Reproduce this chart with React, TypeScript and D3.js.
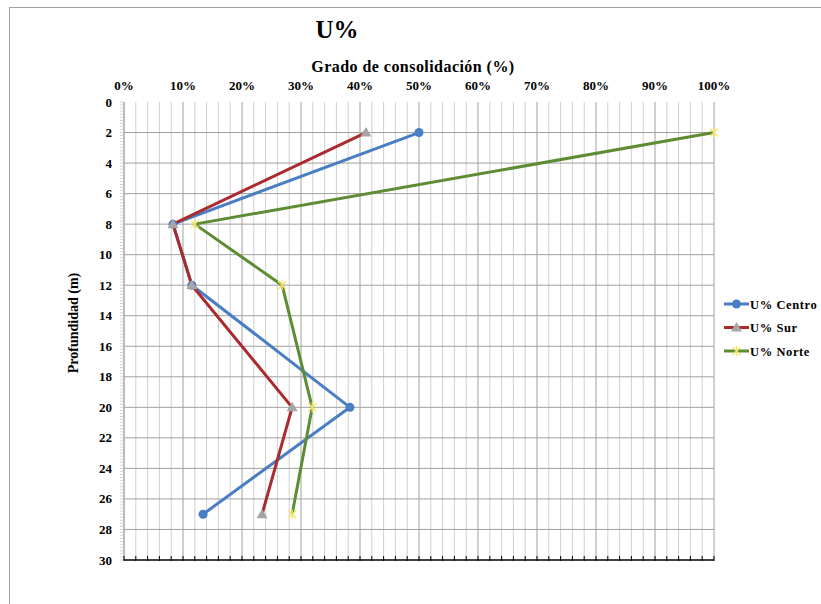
import React from "react";
import * as d3 from "d3";

const depths = [2, 8, 12, 20, 27];
const centro = [0.5, 0.083, 0.115, 0.383, 0.134];
const sur = [0.41, 0.083, 0.115, 0.285, 0.234];
const norte = [1.0, 0.12, 0.268, 0.319, 0.285];
const xTicks = [0, 0.1, 0.2, 0.3, 0.4, 0.5, 0.6, 0.7, 0.8, 0.9, 1.0];
const yTicks = [0, 2, 4, 6, 8, 10, 12, 14, 16, 18, 20, 22, 24, 26, 28, 30];
const seriesNames = ["U% Centro", "U% Sur", "U% Norte"];

const W = 821, H = 604;
const L = 124, R = 714, T = 102, B = 560;
const FONT = "'Liberation Serif', 'Times New Roman', serif";

export default function App() {
  const x = d3.scaleLinear().domain([0, 1]).range([L, R]);
  const y = d3.scaleLinear().domain([0, 30]).range([T, B]);
  const line = d3.line<[number, number]>().x(d => x(d[0])).y(d => y(d[1]));

  const series = [
    { name: seriesNames[0], vals: centro, color: "#4A7EC4", marker: "circle" },
    { name: seriesNames[1], vals: sur, color: "#AA2A2E", marker: "triangle" },
    { name: seriesNames[2], vals: norte, color: "#5E8C32", marker: "star" },
  ];

  const minorX = d3.range(0, 51).map(i => i * 0.02);
  const minorY = d3.range(0, 151).map(i => i * 0.2);

  const marker = (type: string, cx: number, cy: number, key: string) => {
    if (type === "circle") return <circle key={key} cx={cx} cy={cy} r={4.5} fill="#4A7EC4" />;
    if (type === "triangle")
      return <path key={key} d={`M${cx},${cy - 5.5}L${cx + 5.5},${cy + 4}L${cx - 5.5},${cy + 4}Z`} fill="#A5A5A5" />;
    return (
      <g key={key} stroke="#F5E66A" strokeWidth={1.3}>
        <line x1={cx - 4} y1={cy - 4} x2={cx + 4} y2={cy + 4} />
        <line x1={cx - 4} y1={cy + 4} x2={cx + 4} y2={cy - 4} />
        <line x1={cx} y1={cy - 5} x2={cx} y2={cy + 5} />
      </g>
    );
  };

  return (
    <svg width={W} height={H} style={{ position: "absolute", left: 0, top: 0, background: "#fff" }} fontFamily={FONT}>
      <rect x={9.5} y={7.5} width={830} height={640} fill="#fff" stroke="#A0A0A0" />
      {minorX.map((v, i) => (
        <line key={"mx" + i} x1={x(v)} x2={x(v)} y1={T} y2={B}
          stroke={i % 5 === 0 ? "#A0A0A0" : "#D0D0D0"} strokeWidth={1} />
      ))}
      {yTicks.filter(t => t > 0 && t < 30).map(t => (
        <line key={"hy" + t} x1={L} x2={R} y1={y(t)} y2={y(t)} stroke="#A0A0A0" strokeWidth={1} />
      ))}
      <line x1={L} x2={L} y1={T} y2={B} stroke="#A6A6A6" />
      {minorY.map((v, i) => (
        <line key={"ty" + i} x1={L - 4} x2={L} y1={y(v)} y2={y(v)} stroke="#C8C8C8" strokeWidth={0.8} />
      ))}
      <line x1={L} x2={R} y1={B} y2={B} stroke="#000" strokeWidth={1.5} />
      {minorX.map((v, i) => (
        <line key={"bx" + i} x1={x(v)} x2={x(v)} y1={B - 4} y2={B + 1} stroke="#000" strokeWidth={1} />
      ))}
      {series.map(s => (
        <path key={s.name} d={line(s.vals.map((v, i) => [v, depths[i]]) as [number, number][]) || ""}
          fill="none" stroke={s.color} strokeWidth={3} strokeLinejoin="round" />
      ))}
      {series.map(s => s.vals.map((v, i) => marker(s.marker, x(v), y(depths[i]), s.name + i)))}
      {xTicks.map(t => (
        <text key={"xl" + t} x={x(t)} y={90} textAnchor="middle" fontSize={13} fontWeight="bold">
          {d3.format(".0%")(t)}
        </text>
      ))}
      {yTicks.map(t => (
        <text key={"yl" + t} x={112} y={y(t) + 4.5} textAnchor="end" fontSize={13} fontWeight="bold">{t}</text>
      ))}
      <text x={337} y={38} textAnchor="middle" fontSize={25} fontWeight="bold">U%</text>
      <text x={413} y={72} textAnchor="middle" fontSize={16} fontWeight="bold" letterSpacing={0.45}>Grado de consolidación (%)</text>
      <text transform={`translate(78,${(T + B) / 2 - 8}) rotate(-90)`} textAnchor="middle" fontSize={14} fontWeight="bold">Profundidad (m)</text>
      {series.map((s, i) => {
        const ly = 304 + i * 23.5;
        return (
          <g key={"lg" + i}>
            <line x1={724} x2={749} y1={ly} y2={ly} stroke={s.color} strokeWidth={3} />
            {marker(s.marker, 736.5, ly, "lm" + i)}
            <text x={750} y={ly + 4.5} fontSize={12.5} fontWeight="bold" letterSpacing={0.6}>{s.name}</text>
          </g>
        );
      })}
    </svg>
  );
}
